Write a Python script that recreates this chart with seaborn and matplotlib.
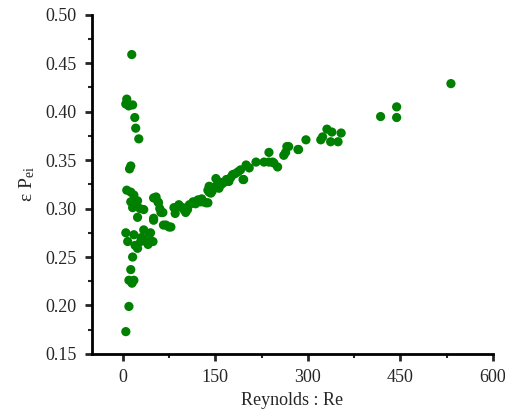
import matplotlib
matplotlib.use("Agg")
import matplotlib.pyplot as plt
import seaborn as sns
import pandas as pd
from matplotlib.ticker import MultipleLocator

reynolds = [14.6, 6.5, 4.9, 9.7, 16, 19.5, 21, 26, 13, 11, 6.5, 13, 18, 24, 13, 16, 34, 24,
            50, 57, 62, 50, 66, 75, 83, 91, 99, 105, 115, 126, 138, 143,
            5, 8, 18, 34, 42, 41, 49, 29, 24, 16, 13, 10, 18, 15, 10, 5,
            532, 444, 418, 444, 331, 339, 354, 349, 321, 324, 297, 285, 266, 261, 237, 251,
            243, 229, 216, 200, 196, 187, 178, 170, 151, 159, 138, 135, 143,
            54, 58, 65, 70, 78, 97, 102, 114, 122, 130, 140, 148, 154, 156, 164, 172,
            191, 195, 237, 245, 269, 264, 284, 337,
            60, 85, 90, 108, 118, 128, 145, 160, 168, 175, 182, 205, 40, 45, 30, 20,
            50, 140, 28, 20]
eps_pei = [0.459, 0.413, 0.408, 0.406, 0.407, 0.394, 0.383, 0.372, 0.344, 0.341, 0.319, 0.317,
           0.314, 0.308, 0.307, 0.301, 0.299, 0.291,
           0.311, 0.307, 0.296, 0.288, 0.283, 0.281, 0.301, 0.304, 0.299, 0.299, 0.306, 0.307,
           0.306, 0.316,
           0.275, 0.266, 0.273, 0.278, 0.271, 0.263, 0.266, 0.266, 0.259, 0.250, 0.237, 0.226,
           0.226, 0.223, 0.199, 0.173,
           0.429, 0.405, 0.395, 0.394, 0.382, 0.379, 0.378, 0.369, 0.371, 0.374, 0.371, 0.361,
           0.364, 0.355, 0.358, 0.343,
           0.348, 0.348, 0.348, 0.345, 0.330, 0.338, 0.335, 0.330, 0.331, 0.327, 0.319, 0.306,
           0.322,
           0.312, 0.306, 0.296, 0.283, 0.281, 0.301, 0.296, 0.307, 0.309, 0.307, 0.317, 0.322,
           0.328, 0.321, 0.327, 0.328,
           0.340, 0.330, 0.348, 0.347, 0.364, 0.358, 0.361, 0.369,
           0.300, 0.295, 0.302, 0.304, 0.305, 0.310, 0.318, 0.325, 0.330, 0.332, 0.336, 0.342,
           0.265, 0.275, 0.270, 0.262, 0.290, 0.323, 0.300, 0.305]

x_ticks = [0, 150, 300, 450, 600]
y_ticks = [0.15, 0.20, 0.25, 0.30, 0.35, 0.40, 0.45, 0.50]

df = pd.DataFrame({"Re": reynolds, "eps": eps_pei})

sns.set_style("ticks")
plt.rcParams["font.family"] = ["Liberation Serif", "DejaVu Serif"]
plt.rcParams["mathtext.fontset"] = "custom"
plt.rcParams["mathtext.rm"] = "Liberation Serif"
plt.rcParams["mathtext.it"] = "Liberation Serif:italic"

fig = plt.figure(figsize=(5.05, 4.12), dpi=100)
ax = fig.add_axes([0.182, 0.141, 0.794, 0.823])
sns.scatterplot(data=df, x="Re", y="eps", ax=ax, color="#008000", s=44,
                edgecolor="none", linewidth=0)

ax.set_xlim(-50, 600)
ax.set_ylim(0.15, 0.50)
ax.set_xticks(x_ticks)
ax.set_xticklabels([str(v) for v in x_ticks])
ax.set_yticks(y_ticks)
ax.set_yticklabels([f"{v:.2f}" for v in y_ticks])
ax.xaxis.set_minor_locator(MultipleLocator(75))
ax.yaxis.set_minor_locator(MultipleLocator(0.025))
for s in ["top", "right"]:
    ax.spines[s].set_visible(False)
for s in ["left", "bottom"]:
    ax.spines[s].set_linewidth(2)
    ax.spines[s].set_color("black")
ax.tick_params(which="major", direction="out", length=5, width=2, labelsize=13, pad=6)
ax.tick_params(which="minor", direction="out", length=3, width=1.5)
ax.set_xlabel("Reynolds : Re", fontsize=13, labelpad=4)
ax.set_ylabel(r"ε P$_{\rm ei}$", fontsize=14, labelpad=6)

fig.savefig("out.png", dpi=100)
